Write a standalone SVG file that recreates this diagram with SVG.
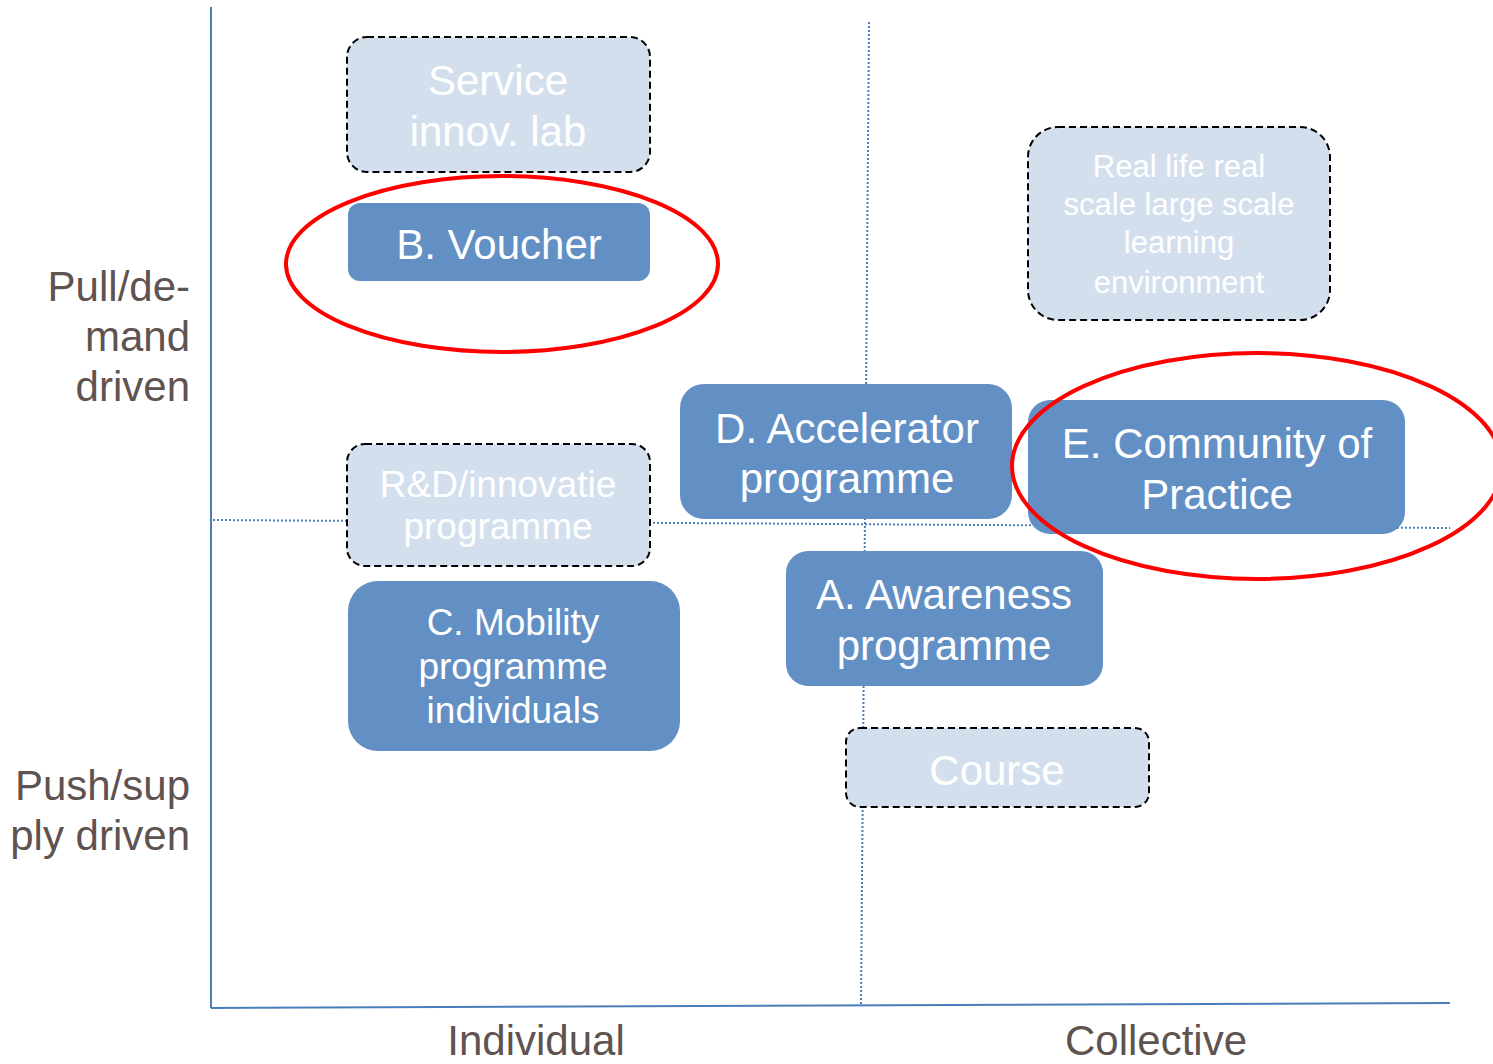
<svg xmlns="http://www.w3.org/2000/svg" width="1493" height="1064" viewBox="0 0 1493 1064">
<style>
.solid{fill:#6290c5;}
.ghost{fill:#d4dfee;stroke:#000;stroke-width:2;stroke-dasharray:7 4;}
.nt{font-family:"Liberation Sans",Arial,sans-serif;fill:#fff;text-anchor:middle;}
.lbl{font-family:"Liberation Sans",Arial,sans-serif;fill:#5e5350;font-size:42px;}
.axis{stroke:#4a7ebb;stroke-width:2;fill:none;}
.dot{stroke:#4a7ebb;stroke-width:2;stroke-dasharray:2 2;fill:none;}
.hl{fill:none;stroke:#ff0000;stroke-width:4;}
</style>
<rect width="1493" height="1064" fill="#fff"/>
<g id="connectors">
<line class="dot" x1="213" y1="520" x2="1450" y2="528"/>
<line class="dot" x1="869" y1="22" x2="861" y2="1006"/>
<line class="axis" x1="211" y1="7" x2="211" y2="1008"/>
<line class="axis" x1="211" y1="1008" x2="1450" y2="1003"/>
</g>
<g id="axis-labels">
<text class="lbl" text-anchor="end" x="190" y="301">Pull/de-</text>
<text class="lbl" text-anchor="end" x="190" y="351">mand</text>
<text class="lbl" text-anchor="end" x="190" y="401">driven</text>
<text class="lbl" text-anchor="end" x="190" y="800">Push/sup</text>
<text class="lbl" text-anchor="end" x="190" y="850">ply driven</text>
<text class="lbl" text-anchor="middle" x="536" y="1055">Individual</text>
<text class="lbl" text-anchor="middle" x="1156" y="1055">Collective</text>
</g>
<g id="service-innov-lab">
<rect class="ghost" x="347" y="37" width="303" height="135" rx="20"/>
<text class="nt" font-size="42" x="498" y="95">Service</text>
<text class="nt" font-size="42" x="498" y="146">innov. lab</text>
</g>
<g id="b-voucher">
<rect class="solid" x="348" y="203" width="302" height="78" rx="12"/>
<text class="nt" font-size="42" x="499" y="259">B. Voucher</text>
</g>
<g id="real-life">
<rect class="ghost" x="1028" y="127" width="302" height="193" rx="30"/>
<text class="nt" font-size="31" x="1179" y="177">Real life real</text>
<text class="nt" font-size="31" x="1179" y="215">scale large scale</text>
<text class="nt" font-size="31" x="1179" y="253">learning</text>
<text class="nt" font-size="31" x="1179" y="293">environment</text>
</g>
<g id="rd-innovatie">
<rect class="ghost" x="347" y="444" width="303" height="122" rx="18"/>
<text class="nt" font-size="37" x="498" y="497">R&amp;D/innovatie</text>
<text class="nt" font-size="37" x="498" y="539">programme</text>
</g>
<g id="c-mobility">
<rect class="solid" x="348" y="581" width="332" height="170" rx="30"/>
<text class="nt" font-size="37" x="513" y="635">C. Mobility</text>
<text class="nt" font-size="37" x="513" y="679">programme</text>
<text class="nt" font-size="37" x="513" y="723">individuals</text>
</g>
<g id="d-accelerator">
<rect class="solid" x="680" y="384" width="332" height="135" rx="24"/>
<text class="nt" font-size="42" x="847" y="443">D. Accelerator</text>
<text class="nt" font-size="42" x="847" y="493">programme</text>
</g>
<g id="e-community">
<rect class="solid" x="1028" y="400" width="377" height="134" rx="22"/>
<text class="nt" font-size="42" x="1217" y="458">E. Community of</text>
<text class="nt" font-size="42" x="1217" y="509">Practice</text>
</g>
<g id="a-awareness">
<rect class="solid" x="786" y="551" width="317" height="135" rx="22"/>
<text class="nt" font-size="42" x="944" y="609">A. Awareness</text>
<text class="nt" font-size="42" x="944" y="660">programme</text>
</g>
<g id="course">
<rect class="ghost" x="846" y="728" width="303" height="79" rx="14"/>
<text class="nt" font-size="42" x="997" y="785">Course</text>
</g>
<g id="highlights">
<ellipse class="hl" cx="502" cy="264" rx="216" ry="88"/>
<ellipse class="hl" cx="1257" cy="466" rx="245" ry="113"/>
</g>
</svg>
